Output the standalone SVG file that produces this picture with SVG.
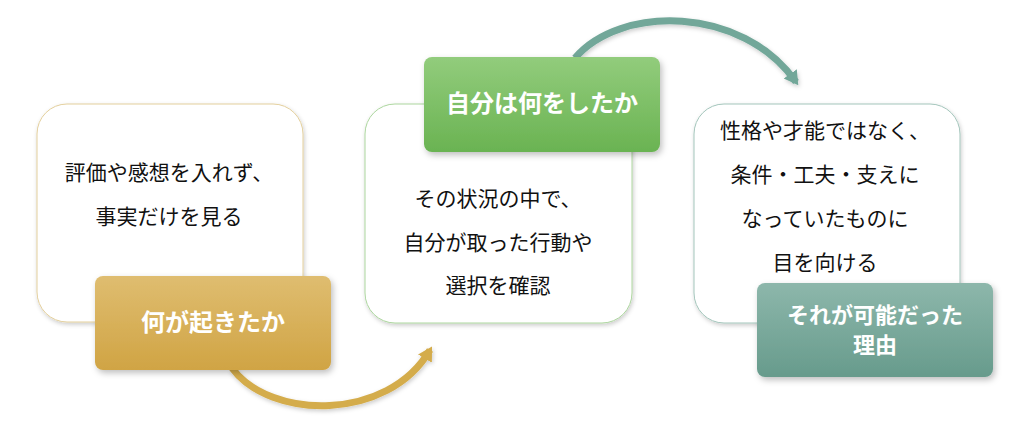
<svg xmlns="http://www.w3.org/2000/svg" width="1026" height="435" viewBox="0 0 1026 435">
<defs>
<filter id="sh" x="-20%" y="-20%" width="140%" height="140%">
<feDropShadow dx="2" dy="3" stdDeviation="3" flood-color="#000" flood-opacity="0.25"/>
</filter>
<filter id="sh2" x="-20%" y="-20%" width="140%" height="140%">
<feDropShadow dx="1" dy="2" stdDeviation="2" flood-color="#000" flood-opacity="0.2"/>
</filter>
<linearGradient id="gGold" x1="0" y1="0" x2="0" y2="1">
<stop offset="0" stop-color="#dfbd70"/>
<stop offset="1" stop-color="#d0a444"/>
</linearGradient>
<linearGradient id="gGreen" x1="0" y1="0" x2="0" y2="1">
<stop offset="0" stop-color="#92cc7c"/>
<stop offset="1" stop-color="#6ab352"/>
</linearGradient>
<linearGradient id="gTeal" x1="0" y1="0" x2="0" y2="1">
<stop offset="0" stop-color="#8db7ab"/>
<stop offset="1" stop-color="#679b8c"/>
</linearGradient>
<marker id="ahGold" markerUnits="userSpaceOnUse" markerWidth="20" markerHeight="20" refX="10" refY="8" orient="auto" viewBox="0 0 20 16">
<path d="M0,0 L14,8 L0,16 Z" fill="#d4ac4c"/>
</marker>
<marker id="ahTeal" markerUnits="userSpaceOnUse" markerWidth="20" markerHeight="20" refX="10" refY="8" orient="auto" viewBox="0 0 20 16">
<path d="M0,0 L14,8 L0,16 Z" fill="#72a799"/>
</marker>
</defs>
<style>
.card{fill:#ffffff;stroke-width:1;filter:url(#sh2)}
.body{font-family:"Noto Sans CJK JP","Noto Sans CJK SC",sans-serif;font-size:21px;fill:#111;text-anchor:middle}
.lbl{font-family:"Noto Sans CJK JP","Noto Sans CJK SC",sans-serif;font-size:24px;font-weight:bold;fill:#fff;text-anchor:middle}
.lbl2{font-size:22px}
.conn{fill:none;stroke-width:7;stroke-linecap:butt;filter:url(#sh2)}
</style>
<g id="connectors">
<path class="conn" d="M232 368 C270 420 388 422 430 350" stroke="#d4ac4c" marker-end="url(#ahGold)"/>
<path class="conn" d="M575 58 C620 5 742 5 796 82" stroke="#72a799" marker-end="url(#ahTeal)"/>
</g>
<g id="node1">
<rect class="card" x="37" y="104" width="266" height="218" rx="30" stroke="#e3cf9c"/>
<text class="body" x="169" y="180">評価や感想を入れず、</text>
<text class="body" x="169" y="224">事実だけを見る</text>
</g>
<g id="label1">
<rect x="95" y="276" width="236" height="94" rx="8" fill="url(#gGold)" filter="url(#sh)"/>
<text class="lbl" x="213" y="331">何が起きたか</text>
</g>
<g id="node2">
<rect class="card" x="365" y="104" width="267" height="219" rx="30" stroke="#acd69e"/>
<text class="body" x="498" y="206">その状況の中で、</text>
<text class="body" x="498" y="250">自分が取った行動や</text>
<text class="body" x="498" y="293">選択を確認</text>
</g>
<g id="label2">
<rect x="424" y="57" width="236" height="95" rx="8" fill="url(#gGreen)" filter="url(#sh)"/>
<text class="lbl" x="542" y="112">自分は何をしたか</text>
</g>
<g id="node3">
<rect class="card" x="694" y="104" width="266" height="219" rx="30" stroke="#a3c5bb"/>
<text class="body" x="825" y="138">性格や才能ではなく、</text>
<text class="body" x="825" y="182">条件・工夫・支えに</text>
<text class="body" x="825" y="226">なっていたものに</text>
<text class="body" x="825" y="270">目を向ける</text>
</g>
<g id="label3">
<rect x="757" y="283" width="236" height="94" rx="8" fill="url(#gTeal)" filter="url(#sh)"/>
<text class="lbl lbl2" x="875" y="323">それが可能だった</text>
<text class="lbl lbl2" x="875" y="353">理由</text>
</g>
</svg>
